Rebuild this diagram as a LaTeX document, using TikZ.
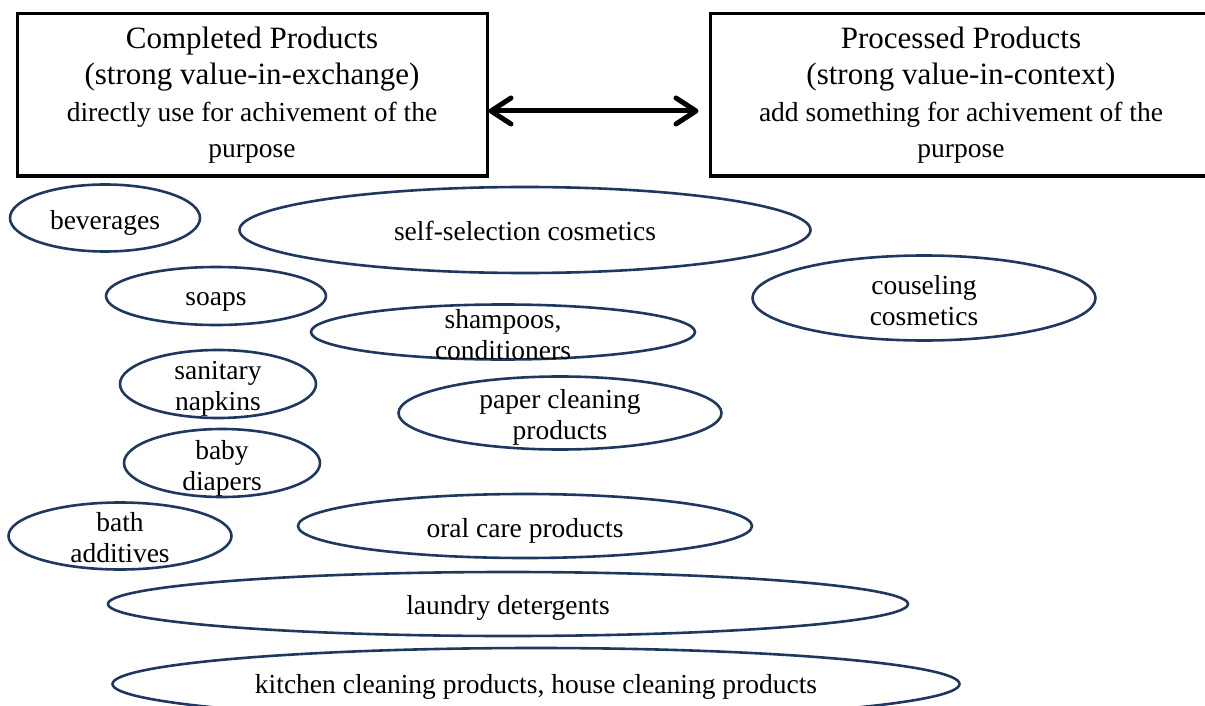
\documentclass[tikz,border=0pt]{standalone}
\usepackage{fontspec}
\setmainfont{Liberation Serif}
\usetikzlibrary{arrows.meta,shapes.geometric}
\definecolor{ovalblue}{RGB}{31,56,96}

\begin{document}
\begin{tikzpicture}[
    x=1pt, y=-1pt,
    typebox/.style={draw, line width=3pt, minimum height=162pt, align=center, font=\fontsize{31}{36.5}\selectfont},
    oval/.style={draw=ovalblue, ellipse, line width=2.6pt, inner sep=0pt},
    itemtext/.style={align=center, inner sep=0pt, font=\fontsize{27.5}{31}\selectfont},
    twoway/.style={line width=5pt, {Straight Barb[length=20pt,width=26pt,round]}-{Straight Barb[length=20pt,width=26pt,round]}}
  ]
  \useasboundingbox (0,0) rectangle (1205,706);
  \node[typebox, minimum width=470pt] (completed) at (252,95) {Completed Products\\(strong value-in-exchange)\\{\fontsize{27.5}{34}\selectfont directly use for achivement of the}\\{\fontsize{27.5}{34}\selectfont purpose}};
  \node[typebox, minimum width=502pt] (processed) at (961,95) {Processed Products\\(strong value-in-context)\\{\fontsize{27.5}{34}\selectfont add something for achivement of the}\\{\fontsize{27.5}{34}\selectfont purpose}};

  \draw[twoway] ([yshift=-16pt]completed.east) -- ([yshift=-16pt, xshift=-10pt]processed.west);

  % product groups
  \node[oval, minimum width=190pt, minimum height=67pt, label={[itemtext, yshift=-5pt]center:beverages}] (bev) at (105,218) {};
  \node[oval, minimum width=571pt, minimum height=86pt, label={[itemtext, yshift=-1pt]center:self-selection cosmetics}] (selfsel) at (525,230) {};
  \node[oval, minimum width=220pt, minimum height=58pt, label={[itemtext, yshift=-6pt]center:soaps}] (soaps) at (216,296) {};
  \node[oval, minimum width=343pt, minimum height=85pt, label={[itemtext, yshift=-3pt]center:couseling\\cosmetics}] (counsel) at (924,298) {};
  \node[oval, minimum width=384pt, minimum height=55pt, label={[itemtext, yshift=-3pt]center:shampoos,\\conditioners}] (shampoo) at (503,332) {};
  \node[oval, minimum width=196pt, minimum height=68pt, label={[itemtext, yshift=-5pt]center:sanitary\\napkins}] (napkins) at (218,384) {};
  \node[oval, minimum width=323pt, minimum height=73pt, label={[itemtext, yshift=-4pt]center:paper cleaning\\products}] (paper) at (560,413) {};
  \node[oval, minimum width=196pt, minimum height=68pt, label={[itemtext, yshift=-5pt]center:baby\\diapers}] (diapers) at (222,463) {};
  \node[oval, minimum width=223pt, minimum height=67pt, label={[itemtext, yshift=-2pt]center:bath\\additives}] (bath) at (120,536) {};
  \node[oval, minimum width=454pt, minimum height=64pt, label={[itemtext, yshift=-5pt]center:oral care products}] (oral) at (525,526) {};
  \node[oval, minimum width=800pt, minimum height=64pt, label={[itemtext, yshift=-4pt]center:laundry detergents}] (laundry) at (508,604) {};
  \node[oval, minimum width=847pt, minimum height=72pt, label={[itemtext, yshift=-3pt]center:kitchen cleaning products, house cleaning products}] (kitchen) at (536,684) {};
\end{tikzpicture}
\end{document}
